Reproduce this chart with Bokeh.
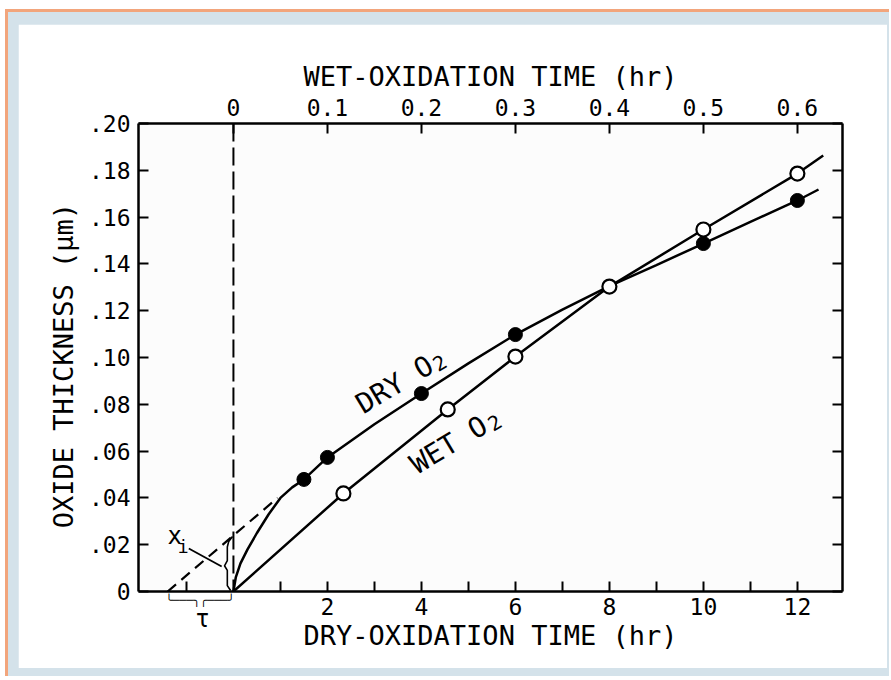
import math
from bokeh.plotting import figure
from bokeh.models import Range1d, LinearAxis, FixedTicker, Span, Label
from bokeh.layouts import column
from bokeh.embed import file_html
from bokeh.resources import INLINE

# ---------------- data ----------------
# dry O2: time in hours (bottom axis), thickness in micrometres
dry_time = [1.5, 2, 4, 6, 10, 12]
dry_thick = [0.0479, 0.0573, 0.0846, 0.1098, 0.1487, 0.1671]
# wet O2: time in hours (top axis)
wet_time = [0.117, 0.228, 0.30, 0.40, 0.50, 0.60]
wet_thick = [0.0419, 0.0778, 0.1004, 0.1303, 0.1547, 0.1786]

# drawn curves
dry_curve_time = [0, 0.05, 0.15, 0.3, 0.5, 0.75, 1.0, 1.25, 1.5, 2, 3, 4, 5, 6, 7, 8, 9, 10, 11, 12, 12.45]
dry_curve_thick = [0, 0.006, 0.012, 0.018, 0.025, 0.033, 0.040, 0.0445, 0.0479, 0.0573, 0.0715,
                   0.0846, 0.0975, 0.1098, 0.1205, 0.1305, 0.1395, 0.1487, 0.158, 0.1671, 0.1718]
wet_curve_time = [0, 0.117, 0.228, 0.30, 0.40, 0.50, 0.60, 0.6275]
wet_curve_thick = [0, 0.0419, 0.0778, 0.1004, 0.1303, 0.1547, 0.1786, 0.1863]

# dashed linear extrapolation of the dry curve (x_i, tau construction)
extrap_time = [-1.40, 0.94]
extrap_thick = [0.0, 0.040]

# x_i bracket and its leader line
xi_bracket_time = [-0.02, -0.10, -0.13, -0.13, -0.19, -0.13, -0.13, -0.06]
xi_bracket_thick = [0.0235, 0.0214, 0.0190, 0.0132, 0.0110, 0.0090, 0.0025, 0.0004]
xi_leader_time = [-0.95, -0.25]
xi_leader_thick = [0.0184, 0.0107]
# tau brace (centre of the span between the intercept and t = 0)
tau_brace_center = (-0.71, -0.0036)

# ticks
y_ticks = [0, 0.02, 0.04, 0.06, 0.08, 0.10, 0.12, 0.14, 0.16, 0.18, 0.20]
y_tick_labels = ["0", ".02", ".04", ".06", ".08", ".10", ".12", ".14", ".16", ".18", ".20"]
dry_major_ticks = [2, 4, 6, 8, 10, 12]
dry_minor_ticks = [-1, 1, 3, 5, 7, 9, 11]
wet_ticks = [0, 0.1, 0.2, 0.3, 0.4, 0.5, 0.6]
wet_tick_labels = ["0", "0.1", "0.2", "0.3", "0.4", "0.5", "0.6"]

FONT = "DejaVu Sans Mono"

p = figure(width=869, height=644, output_backend="svg", toolbar_location=None,
           x_range=Range1d(-2.02, 12.96), y_range=Range1d(0, 0.20),
           min_border_left=120, min_border_top=99, min_border_right=45, min_border_bottom=77,
           background_fill_color="#fcfcfc", border_fill_color="white",
           outline_line_color=None)
p.extra_x_ranges = {"wet": Range1d(-2.02 / 20, 12.96 / 20)}
p.xgrid.visible = False
p.ygrid.visible = False

top_axis = LinearAxis(x_range_name="wet")
right_axis = LinearAxis()
p.add_layout(top_axis, "above")
p.add_layout(right_axis, "right")

for ax in p.axis:
    ax.axis_line_width = 2.5
    ax.axis_line_color = "black"
    ax.major_tick_line_width = 2
    ax.minor_tick_line_width = 2
    ax.major_tick_in = 10
    ax.major_tick_out = 0
    ax.minor_tick_in = 0
    ax.minor_tick_out = 0
    ax.major_label_text_font = FONT
    ax.major_label_text_font_size = "23px"
    ax.major_label_text_color = "black"
    ax.axis_label_text_font = FONT
    ax.axis_label_text_font_size = "27px"
    ax.axis_label_text_font_style = "normal"
    ax.axis_label_text_color = "black"

# bottom: dry time
bx = p.below[0]
bx.ticker = FixedTicker(ticks=dry_major_ticks, minor_ticks=dry_minor_ticks)
bx.minor_tick_in = 10
bx.major_label_standoff = 6
bx.axis_label = "DRY-OXIDATION TIME (hr)"
bx.axis_label_standoff = 2

# top: wet time
top_axis.ticker = FixedTicker(ticks=wet_ticks)
top_axis.major_label_overrides = {t: s for t, s in zip(wet_ticks, wet_tick_labels)}
top_axis.major_label_standoff = 8
top_axis.axis_label = "WET-OXIDATION TIME (hr)"
top_axis.axis_label_standoff = 4

# left: thickness
ly = p.left[0]
ly.ticker = FixedTicker(ticks=y_ticks)
ly.major_label_overrides = {t: s for t, s in zip(y_ticks, y_tick_labels)}
ly.major_label_standoff = 8
ly.axis_label = "OXIDE THICKNESS  (\u03bcm)"
ly.axis_label_standoff = 7

# right: ticks only
right_axis.ticker = FixedTicker(ticks=y_ticks)
right_axis.major_label_overrides = {t: "" for t in y_ticks}
right_axis.major_label_text_font_size = "1px"

# vertical dashed line at t = 0
p.add_layout(Span(location=0, dimension="height", line_color="black",
                  line_width=2, line_dash="18 6"))

# curves
p.line(extrap_time, extrap_thick, line_color="black", line_width=2.2, line_dash="11 7")
p.line(dry_curve_time, dry_curve_thick, line_color="black", line_width=2.5)
p.line(wet_curve_time, wet_curve_thick, x_range_name="wet", line_color="black", line_width=2.5)
p.line(xi_bracket_time, xi_bracket_thick, line_color="black", line_width=1.6)
p.line(xi_leader_time, xi_leader_thick, line_color="black", line_width=1.8)

# markers
p.scatter(dry_time, dry_thick, size=14, marker="circle", fill_color="black", line_color="black")
p.scatter(wet_time, wet_thick, x_range_name="wet", size=14, marker="circle",
          fill_color="white", line_color="black", line_width=2.2)

# tau brace and label below the axis (in side panels, so they are not clipped to the frame)
brace_label = Label(x=tau_brace_center[0], y=tau_brace_center[1],
                    text="\u2570\u2500\u2500\u2500\u256e\u256d\u2500\u2500\u2500\u256f",
                    text_font_size="11.5px", text_font=FONT, text_font_style="bold",
                    text_align="center", text_baseline="middle", text_color="black")
p.add_layout(brace_label, "above")
tau_label = Label(x=-0.66, y=-0.0118, text="\u03c4", text_font_size="24px", text_font=FONT,
                  text_align="center", text_baseline="middle", text_color="black")
p.add_layout(tau_label, "left")

ang = math.radians(31)
labels = [
    Label(x=2.66, y=0.0791, text="DRY O", angle=ang, text_font_size="28px",
          text_align="left", text_baseline="alphabetic"),
    Label(x=4.28, y=0.0963, text="2", angle=ang, text_font_size="20px",
          text_align="left", text_baseline="alphabetic"),
    Label(x=3.81, y=0.0534, text="WET O", angle=ang, text_font_size="28px",
          text_align="left", text_baseline="alphabetic"),
    Label(x=5.45, y=0.0707, text="2", angle=ang, text_font_size="20px",
          text_align="left", text_baseline="alphabetic"),
    Label(x=-1.25, y=0.0238, text="x", text_font_size="24px",
          text_align="center", text_baseline="middle"),
    Label(x=-1.07, y=0.0192, text="i", text_font_size="18px",
          text_align="center", text_baseline="middle"),
]
for lab in labels:
    lab.text_font = FONT
    lab.text_color = "black"
    p.add_layout(lab)

layout = column(p, styles={
    "background-color": "#d4e2ea",
    "margin": "9px 0px 0px 5px",
    "border-top": "3px solid #f2a57c",
    "border-left": "3px solid #f2a57c",
    "padding": "12px 2px 8px 10px",
})

open("out.html", "w").write(file_html(layout, INLINE))
